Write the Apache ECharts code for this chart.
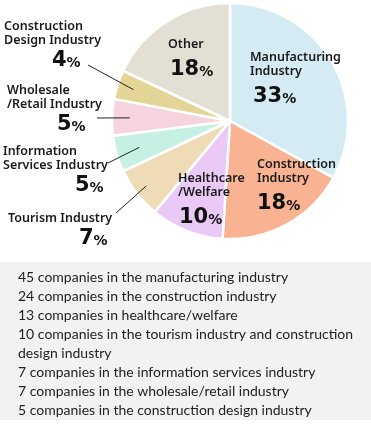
<!DOCTYPE html>
<html><head><meta charset="utf-8">
<script src="https://cdn.jsdelivr.net/npm/echarts@6/dist/echarts.min.js"></script>
<style>html,body{margin:0;padding:0;background:#fff}#c{width:371px;height:424px}</style>
</head><body><div id="c"></div>
<script>
// ---- data ----
const categories = ['Manufacturing Industry','Construction Industry','Healthcare/Welfare','Tourism Industry','Information Services Industry','Wholesale/Retail Industry','Construction Design Industry','Other'];
const labelNames = ['Manufacturing\nIndustry','Construction\nIndustry','Healthcare\n/Welfare','Tourism Industry','Information\nServices Industry','Wholesale\n/Retail Industry','Construction\nDesign Industry','Other'];
const shares = [33, 18, 10, 7, 5, 5, 4, 18];
const noteLines = [
  '45 companies in the manufacturing industry',
  '24 companies in the construction industry',
  '13 companies in healthcare/welfare',
  '10 companies in the tourism industry and construction',
  'design industry',
  '7 companies in the information services industry',
  '7 companies in the wholesale/retail industry',
  '5 companies in the construction design industry'
];

// ---- styles ----
const colors = ['#d4ebf4','#f9b393','#ebc9f7','#efdbb5','#c7f0e5','#f7d3dd','#e2d595','#e3dfd4'];
const CX = 230, CY = 121, R = 118;
// label block top-left, whether inside, leader-line start, left indent of the percent line
const labelBoxes = [
  {x:250, y:50,  inner:true,  ind:3},
  {x:257, y:157, inner:true,  ind:0},
  {x:178, y:171, inner:true,  ind:1},
  {x:8,   y:211, inner:false, ind:71, line:[116,213], r:0.9},
  {x:3,   y:144, inner:false, ind:72, line:[108,163], r:0.8},
  {x:7,   y:83,  inner:false, ind:50, line:[97,118],  r:0.85},
  {x:4,   y:19,  inner:false, ind:48, line:[88,65],   r:0.86},
  {x:168, y:37,  inner:true,  ind:2}
];
const NAME_FONT = "'Noto Sans', sans-serif";
const PCT_FONT = "'DejaVu Sans', sans-serif";

const total = shares.reduce((a,b)=>a+b,0);
const midAngles = [];
{ let acc = 0; shares.forEach(v => { midAngles.push((acc + v/2)/total*2*Math.PI); acc += v; }); }

const data = categories.map((c,i) => {
  const b = labelBoxes[i];
  return {
    name: c, value: shares[i],
    itemStyle: {color: colors[i]},
    label: {
      rich: {
        p: {lineHeight: b.inner ? 38 : 28, padding: [0, 0, 0, b.ind]}
      }
    }
  };
});

const leaderIdx = labelBoxes.map((b,i) => b.inner ? null : i).filter(v => v !== null);

const chart = echarts.init(document.getElementById('c'), null, {renderer:'canvas'});
chart.setOption({
  animation: false,
  graphic: [
    {type:'rect', shape:{x:0, y:262, width:371, height:158}, style:{fill:'#f2f2f2'}, z:0},
    {type:'text', x:18, y:268, z:1, style:{
      text: noteLines.join('\n'), fill:'#222', font:"14px Lato, sans-serif", lineHeight:19
    }}
  ],
  series: [{
    type: 'pie',
    z: 2,
    center: [CX, CY],
    radius: [0, R],
    startAngle: 90,
    clockwise: true,
    avoidLabelOverlap: false,
    itemStyle: {borderColor:'#fff', borderWidth:2.5},
    label: {
      show: true,
      position: 'outside',
      width: 140,
      overflow: 'none',
      color: '#1a1a1a',
      formatter: p => labelNames[p.dataIndex].split('\n').map(t => '{n|' + t + '}').join('\n') +
                      '\n{p|' + p.value + '}{s|%}',
      rich: {
        n: {fontFamily: NAME_FONT, fontSize: 12.5, fontWeight: 600, lineHeight: 14, color:'#1a1a1a'},
        p: {fontFamily: PCT_FONT, fontSize: 21, fontWeight: 'bold', color:'#111'},
        s: {fontFamily: PCT_FONT, fontSize: 14, fontWeight: 'bold', color:'#111', padding: [5, 0, 0, 0]}
      }
    },
    labelLine: {show: false},
    labelLayout: params => {
      const b = labelBoxes[params.dataIndex];
      return {x: b.x, y: b.y, align: 'left', verticalAlign: 'top'};
    },
    data: data
  }, {
    type: 'custom',
    coordinateSystem: 'none',
    z: 5,
    silent: true,
    data: leaderIdx,
    renderItem: (params, api) => {
      const i = leaderIdx[params.dataIndex];
      const b = labelBoxes[i];
      const a = midAngles[i], r = R * b.r;
      return {
        type: 'polyline',
        shape: {points: [b.line, [CX + r*Math.sin(a), CY - r*Math.cos(a)]]},
        style: {stroke: '#222', lineWidth: 1, fill: null}
      };
    }
  }]
});
</script>
</body></html>
